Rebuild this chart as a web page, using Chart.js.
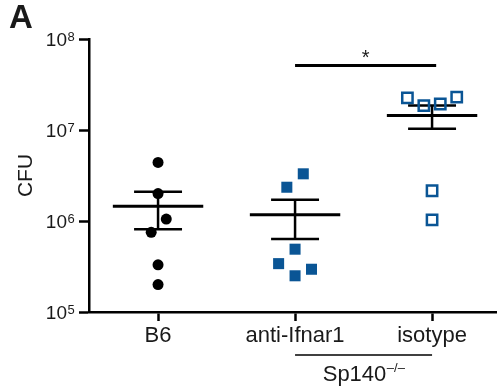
<!DOCTYPE html>
<html>
<head>
<meta charset="utf-8">
<script src="https://cdn.jsdelivr.net/npm/chart.js@4.4.0/dist/chart.umd.min.js"></script>
<style>
  html, body { margin: 0; padding: 0; background: #fff; }
  canvas { display: block; }
</style>
</head>
<body>
<canvas id="cfuChart" width="497" height="389"></canvas>
<script>
const categories = ['B6', 'anti-Ifnar1', 'isotype'];
const yTicks = [1e5, 1e6, 1e7, 1e8];

// CFU per mouse
const b6Cfu = [4.4e6, 2.0e6, 1.05e6, 7.5e5, 3.3e5, 2.0e5];
const antiIfnar1Cfu = [3.3e6, 2.35e6, 4.9e5, 3.4e5, 2.95e5, 2.5e5];
const isotypeCfu = [2.25e7, 1.85e7, 1.93e7, 2.3e7, 2.15e6, 1.03e6];

// sideways spread of the dots, in category widths
const b6Jitter = [0, 0, 0.06, -0.05, 0, 0];
const antiIfnar1Jitter = [0.06, -0.06, 0, -0.12, 0.12, 0];
const isotypeJitter = [-0.18, -0.06, 0.06, 0.18, 0, 0];

// significance bracket anti-Ifnar1 vs isotype
const sigFrom = 1, sigTo = 2.03, sigLevel = 5.1e7, sigText = '*';

const FONT = '"Liberation Sans", Arial, Helvetica, sans-serif';
const BLUE = '#0a5595';
const TEXT = '#1a1a1a';

function meanSem(vals) {
    const n = vals.length;
    const mean = vals.reduce((a, b) => a + b, 0) / n;
    const sd = Math.sqrt(vals.reduce((a, v) => a + (v - mean) ** 2, 0) / (n - 1));
    return { mean, sem: sd / Math.sqrt(n) };
}

function segment(x0, y0, x1, y1, width) {
    return {
        type: 'scatter',
        data: [{ x: x0, y: y0 }, { x: x1, y: y1 }],
        showLine: true,
        borderColor: '#000',
        borderWidth: width,
        pointRadius: 0,
        order: 1
    };
}

// mean +/- SEM bars for each group
const lineSets = [];
[b6Cfu, antiIfnar1Cfu, isotypeCfu].forEach((vals, i) => {
    const { mean, sem } = meanSem(vals);
    lineSets.push(segment(i - 0.33, mean, i + 0.33, mean, 3));
    lineSets.push(segment(i - 0.175, mean + sem, i + 0.175, mean + sem, 2.5));
    lineSets.push(segment(i - 0.175, mean - sem, i + 0.175, mean - sem, 2.5));
    lineSets.push(segment(i, mean - sem, i, mean + sem, 2.5));
});
lineSets.push(segment(sigFrom, sigLevel, sigTo, sigLevel, 3));

const pointSets = [
    {
        data: b6Cfu.map((v, k) => ({ x: 0 + b6Jitter[k], y: v })),
        pointStyle: 'circle', pointRadius: 5.5,
        backgroundColor: '#000', borderColor: '#000', borderWidth: 0, order: 0
    },
    {
        data: antiIfnar1Cfu.map((v, k) => ({ x: 1 + antiIfnar1Jitter[k], y: v })),
        pointStyle: 'rect', pointRadius: 7.8,
        backgroundColor: BLUE, borderColor: BLUE, borderWidth: 0, order: 0
    },
    {
        data: isotypeCfu.map((v, k) => ({ x: 2 + isotypeJitter[k], y: v })),
        pointStyle: 'rect', pointRadius: 7.3,
        backgroundColor: 'rgba(0,0,0,0)', borderColor: BLUE, borderWidth: 2.5, order: 0
    }
];

// panel letter, 10^n labels, asterisk and the Sp140 group label
const annotations = {
    id: 'annotations',
    afterDraw(chart) {
        const { ctx, scales: { x, y } } = chart;
        ctx.save();
        ctx.fillStyle = TEXT;
        ctx.textBaseline = 'alphabetic';

        yTicks.forEach(v => {
            const py = y.getPixelForValue(v);
            const right = y.right - 22;
            ctx.font = '19px ' + FONT;
            ctx.textAlign = 'right';
            ctx.fillText('10', right, py + 7);
            ctx.font = '13px ' + FONT;
            ctx.textAlign = 'left';
            ctx.fillText(String(Math.round(Math.log10(v))), right + 0.5, py + 1.5);
        });

        ctx.font = 'bold 33px ' + FONT;
        ctx.textAlign = 'left';
        ctx.fillText('A', 9, 28);

        ctx.font = '20px ' + FONT;
        ctx.textAlign = 'center';
        ctx.fillText(sigText, x.getPixelForValue((sigFrom + sigTo) / 2), y.getPixelForValue(sigLevel) - 2);

        const x1 = x.getPixelForValue(1), x2 = x.getPixelForValue(2);
        ctx.strokeStyle = '#000';
        ctx.lineWidth = 1.5;
        ctx.beginPath();
        ctx.moveTo(x1, 355);
        ctx.lineTo(x2, 355);
        ctx.stroke();

        ctx.font = '22px ' + FONT;
        const wMain = ctx.measureText('Sp140').width;
        ctx.font = '13px ' + FONT;
        const wSup = ctx.measureText('\u2013/\u2013').width;
        const start = (x1 + x2) / 2 - (wMain + wSup) / 2;
        ctx.textAlign = 'left';
        ctx.font = '22px ' + FONT;
        ctx.fillText('Sp140', start, 381);
        ctx.font = '13px ' + FONT;
        ctx.fillText('\u2013/\u2013', start + wMain + 0.5, 372);
        ctx.restore();
    }
};

new Chart(document.getElementById('cfuChart'), {
    type: 'scatter',
    data: { datasets: [...pointSets, ...lineSets] },
    options: {
        responsive: false,
        animation: false,
        events: [],
        layout: { autoPadding: false, padding: { top: 39, left: 0, right: 0, bottom: 0 } },
        plugins: { legend: { display: false }, tooltip: { enabled: false } },
        scales: {
            x: {
                type: 'linear',
                min: -0.504,
                max: 2.474,
                afterBuildTicks: scale => { scale.ticks = [0, 1, 2].map(v => ({ value: v })); },
                afterFit: scale => {
                    scale.height = 77;
                    scale.paddingLeft = 0;
                    scale.paddingRight = 0;
                },
                ticks: {
                    callback: v => categories[v],
                    color: TEXT,
                    font: { family: FONT, size: 22 },
                    padding: 2,
                    maxRotation: 0,
                    autoSkip: false
                },
                grid: { drawOnChartArea: false, drawTicks: true, tickLength: 9, tickWidth: 2.5, color: '#000' },
                border: { display: true, width: 2.5, color: '#000' }
            },
            y: {
                type: 'logarithmic',
                min: 1e5,
                max: 1e8,
                afterBuildTicks: scale => { scale.ticks = yTicks.map(v => ({ value: v })); },
                afterFit: scale => {
                    scale.width = 89;
                    scale.paddingTop = 0;
                    scale.paddingBottom = 0;
                },
                ticks: { display: false },
                title: {
                    display: true,
                    text: 'CFU',
                    color: TEXT,
                    font: { family: FONT, size: 21 },
                    padding: { top: 14, bottom: 0 }
                },
                grid: { drawOnChartArea: false, drawTicks: true, tickLength: 10, tickWidth: 2.5, color: '#000' },
                border: { display: true, width: 2.5, color: '#000' }
            }
        }
    },
    plugins: [annotations]
});
</script>
</body>
</html>
